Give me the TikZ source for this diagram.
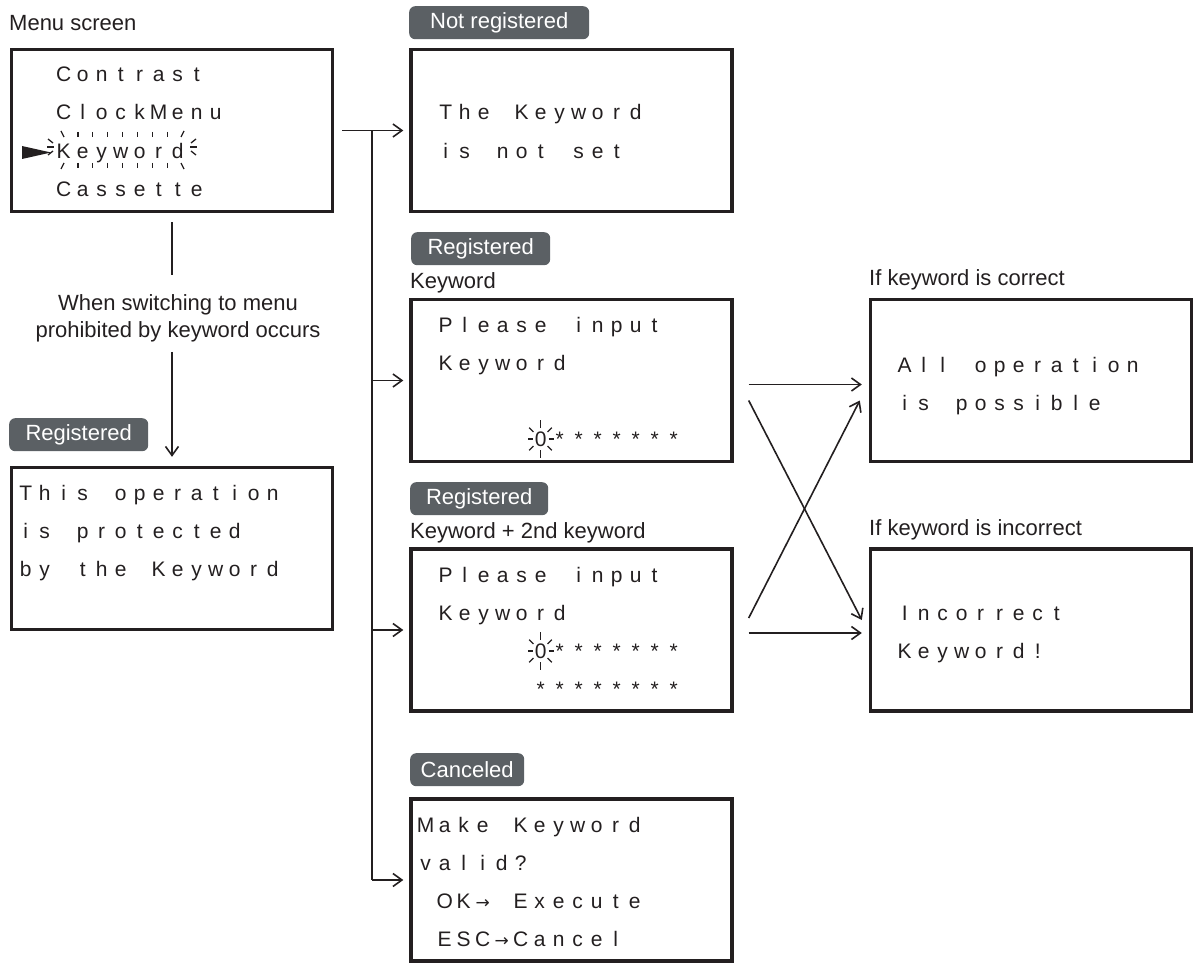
\documentclass[tikz,border=0pt]{standalone}
\usepackage{fontspec}
\setmainfont{Liberation Sans}
\newfontfamily\arrowfont{DejaVu Sans}
\usetikzlibrary{calc,arrows.meta,positioning}
\ExplSyntaxOn
\NewDocumentCommand\lcd{m}{\str_map_inline:nn{#1}{\makebox[19pt]{##1}}}
\ExplSyntaxOff
\newcommand\lcdarrow{\makebox[19pt]{\arrowfont\fontsize{17}{17}\selectfont →}}
\definecolor{inkx}{HTML}{231F20}
\definecolor{tagx}{HTML}{5B6064}
\tikzset{
  scr/.style={draw=inkx,line width=3.4pt,minimum width=321pt,minimum height=162pt,inner sep=0pt},
  tag/.style={fill=tagx,rounded corners=6pt,text=white,font=\fontsize{22}{26}\selectfont,minimum height=33pt,inner sep=0pt,anchor=north west},
  lbl/.style={font=\fontsize{22}{26}\selectfont,text=inkx,anchor=base west,inner sep=0pt},
  lcdt/.style={font=\fontsize{21}{25}\selectfont,text=inkx,anchor=base west,inner sep=0pt},
  conn/.style={draw=inkx,line width=1.6pt,-{Straight Barb[length=9pt,width=13pt,line width=1.6pt]}},
  ln/.style={draw=inkx,line width=1.6pt},
  spk/.style={draw=inkx,line width=1.3pt}
}
\begin{document}
\begin{tikzpicture}[x=1pt,y=-1pt]
\useasboundingbox (0,0) rectangle (1194,963);
% screens
\node[scr] (menu) at (172,130.5) {};
\node[scr] (notreg) at (571.5,130.5) {};
\node[scr] (kw) at (571.5,380.5) {};
\node[scr] (kwtwo) at (571.5,630) {};
\node[scr] (cancel) at (571.5,880) {};
\node[scr] (prot) at (172,548.5) {};
\node[scr] (ok) at (1031,380.5) {};
\node[scr] (ng) at (1031,630) {};
% tags and captions
\node[tag,minimum width=180pt] (tnot) at (409,6) {Not registered};
\node[tag,minimum width=139pt] (treg) at (411,232) {Registered};
\node[tag,minimum width=138pt] (tregtwo) at (410,482) {Registered};
\node[tag,minimum width=114pt] (tcan) at (410,753) {Canceled};
\node[tag,minimum width=139pt] (tprot) at (9,418) {Registered};
\node[lbl] (lmenu) at (9,31) {Menu screen};
\node[lbl] (lkw) at (410,288) {Keyword};
\node[lbl] (lkwtwo) at (410,538) {Keyword + 2nd keyword};
\node[lbl] (lok) at (869,285) {If keyword is correct};
\node[lbl] (lng) at (869,535) {If keyword is incorrect};
\node[font=\fontsize{22}{27}\selectfont,text=inkx,align=center,inner sep=0pt] (note) at (178,318)
  {When switching to menu\\prohibited by keyword occurs};
% menu screen
\node[lcdt] (m1) at (54,82) {\lcd{Contrast}};
\node[lcdt] (m2) at (54,120) {\lcd{ClockMenu}};
\node[lcdt] (m3) at (54,158) {\lcd{Keyword}};
\node[lcdt] (m4) at (54,196) {\lcd{Cassette}};
\fill[inkx] (22,146) -- (51,152.5) -- (22,159) -- cycle;
\foreach \i in {1,...,7}{
  \draw[spk] ({63+14.9*\i},132) -- ++(0,5);
  \draw[spk] ({63+14.9*\i},163) -- ++(0,5);
}
\draw[spk] (61,131) -- (64,137);
\draw[spk] (184,131) -- (181,137);
\draw[spk] (64,163) -- (61,169);
\draw[spk] (181,163) -- (184,169);
\draw[spk] (48,139) -- (53,143);
\draw[spk] (47,147) -- (54,147);
\draw[spk] (48,155) -- (53,151);
\draw[spk] (196,139) -- (191,143);
\draw[spk] (190,147) -- (197,147);
\draw[spk] (196,155) -- (191,151);
% other screens
\node[lcdt] (n1) at (436,120) {\lcd{The Keyword}};
\node[lcdt] (n2) at (436,158) {\lcd{is not set}};
\node[lcdt] (k1) at (436,332) {\lcd{Please input}};
\node[lcdt] (k2) at (436,370) {\lcd{Keyword}};
\node[lcdt] (k3) at (531,446) {\lcd{0*******}};
\node[lcdt] (t1) at (436,582) {\lcd{Please input}};
\node[lcdt] (t2) at (436,620) {\lcd{Keyword}};
\node[lcdt] (t3) at (531,658) {\lcd{0*******}};
\node[lcdt] (t4) at (531,696) {\lcd{********}};
\foreach \cx/\cy in {540.5/439,540.5/651}{
  \foreach \a/\r/\s in {0/8/13,180/8/13,90/11/19,270/11/19,45/10/16,135/10/16,225/10/16,315/10/16}
    \draw[spk] ($(\cx,\cy)+(\a:\r)$) -- ($(\cx,\cy)+(\a:\s)$);
}
\node[lcdt] (c1) at (416,832) {\lcd{Make Keyword}};
\node[lcdt] (c2) at (416,870) {\lcd{valid?}};
\node[lcdt] (c3) at (435,908) {\lcd{OK}\lcdarrow\makebox[19pt]{}\lcd{Execute}};
\node[lcdt] (c4) at (435,946) {\lcd{ESC}\lcdarrow\lcd{Cancel}};
\node[lcdt] (p1) at (16,500) {\lcd{This operation}};
\node[lcdt] (p2) at (16,538) {\lcd{is protected}};
\node[lcdt] (p3) at (16,576) {\lcd{by the Keyword}};
\node[lcdt] (o1) at (895,372) {\lcd{All operation}};
\node[lcdt] (o2) at (895,410) {\lcd{is possible}};
\node[lcdt] (g1) at (895,620) {\lcd{Incorrect}};
\node[lcdt] (g2) at (895,658) {\lcd{Keyword!}};
% connectors
\coordinate (jn) at ($(menu.east)!0.5!(notreg.west)$);
\draw[conn] ([xshift=8pt]menu.east) -- ([xshift=-6pt]notreg.west);
\draw[ln] (jn) -- (jn |- cancel.west);
\draw[conn] (jn |- kw.west) -- ([xshift=-6pt]kw.west);
\draw[conn] (jn |- kwtwo.west) -- ([xshift=-6pt]kwtwo.west);
\draw[conn] (jn |- cancel.west) -- ([xshift=-6pt]cancel.west);
\draw[ln] ([yshift=-9pt]menu.south) -- ($(menu.south |- note.north)+(0,-19)$);
\draw[conn] ($(menu.south |- note.south)+(0,10)$) -- ([yshift=9pt]prot.north);
\draw[conn] ([xshift=15pt,yshift=-4pt]kw.east) -- ([xshift=-7pt,yshift=-4pt]ok.west);
\draw[conn] ([xshift=15pt,yshift=-20pt]kw.east) -- ([xshift=-7pt,yshift=10pt]ng.west);
\draw[conn] ([xshift=15pt,yshift=12pt]kwtwo.east) -- ([xshift=-9pt,yshift=-20pt]ok.west);
\draw[conn] ([xshift=15pt,yshift=-3pt]kwtwo.east) -- ([xshift=-7pt,yshift=-3pt]ng.west);
\end{tikzpicture}
\end{document}
